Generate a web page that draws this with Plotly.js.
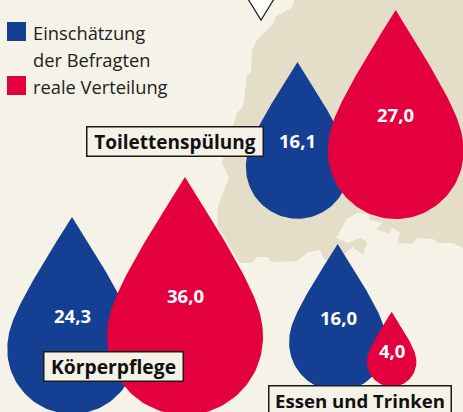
<!DOCTYPE html>
<html><head><meta charset="utf-8">
<script src="https://cdn.plot.ly/plotly-3.0.1.min.js"></script>
<style>html,body{margin:0;padding:0;background:#f5f2e7;overflow:hidden}</style></head>
<body><div id="chart" style="width:463px;height:412px"></div>
<script>
var categories = ["Toilettenspülung", "Körperpflege", "Essen und Trinken"];
var schaetzung = [16.1, 24.3, 16.0];
var real = [27.0, 36.0, 4.0];
var seriesNames = ["Einschätzung<br>der Befragten", "reale Verteilung"];

var blue = "#153f92", red = "#e4003f", bg = "#f5f2e7", land = "#e4ddc7";
var WIDTH_K = 26;
var blueScale = [0.99, 1.01, 0.935], redScale = [1.005, 1, 0.95];
// drop anchors: centre x, bottom y and tip y in canvas units
var blueAnchors = [[297.5, 218.7, 62], [72, 414, 217], [337.7, 391, 244]];
var redAnchors = [[395.7, 219, 10], [185, 415, 177], [391.7, 386.7, 311.7]];

var mapX = [294,293,275,274,257,252,251,247,243,237,233,222,229,220,217,218,240,251,257,268,271,297,308,320,325,340,347,353,363,367,360,348,336,347,357,368,370,383,376,390,392,400,398,412,417,433,438,453,463,463];
var mapY = [0,7,17,23,40,50,72,75,107,113,127,163,178,200,213,227,263,263,257,257,262,261,252,250,260,258,252,247,255,242,238,243,238,219,213,214,220,223,229,234,228,232,243,244,238,239,243,243,248,0];

function drop(value, a, scale) {
  var r = scale * WIDTH_K * Math.sqrt(value) / 2, h = a[1] - a[2], xs = [], ys = [], i, t;
  var cy = a[1] - r, top = a[2];
  for (i = 0; i <= 60; i++) { // right flank, tip to the circle
    t = i / 60;
    var mt = 1 - t;
    var py = top + 3*mt*mt*t*(0.44*h) + 3*mt*t*t*(0.55*h) + t*t*t*(cy - top);
    var px = 3*mt*mt*t*(0.85*r) + 3*mt*t*t*r + t*t*t*r;
    xs.push(a[0] + px); ys.push(py);
  }
  for (i = 1; i <= 60; i++) { // bottom half circle
    t = Math.PI * i / 60;
    xs.push(a[0] + r * Math.cos(t)); ys.push(cy + r * Math.sin(t));
  }
  for (i = 59; i >= 0; i--) { // left flank, mirror of the first 61 points
    xs.push(2 * a[0] - xs[i]); ys.push(ys[i]);
  }
  return {x: xs, y: ys};
}
function dropTrace(value, a, scale, color, name) {
  var d = drop(value, a, scale);
  return {type: "scatter", mode: "lines", x: d.x, y: d.y, fill: "toself", fillcolor: color,
          line: {width: 0, color: color}, name: name, showlegend: false, hoverinfo: "skip"};
}
var traces = [
  {type: "scatter", mode: "lines", x: mapX, y: mapY, fill: "toself", fillcolor: land,
   line: {width: 0, color: land}, showlegend: false, hoverinfo: "skip"},
  {type: "scatter", mode: "lines", x: [248, 261, 274], y: [-1, 20, -1],
   fill: "toself", fillcolor: "#ffffff", line: {width: 1.2, color: "#1a1a1a"}, showlegend: false, hoverinfo: "skip"}
];
for (var i = 0; i < categories.length; i++) {
  traces.push(dropTrace(schaetzung[i], blueAnchors[i], blueScale[i], blue, categories[i]));
  traces.push(dropTrace(real[i], redAnchors[i], redScale[i], red, categories[i]));
}
traces.push({type: "scatter", mode: "markers", x: [16.5, 16.5], y: [31.5, 85.5],
  marker: {symbol: "square", size: 19, color: [blue, red], line: {width: 0}}, showlegend: false, hoverinfo: "skip"});

var F = "'Open Sans', sans-serif";
function num(v) { return v.toFixed(1).replace(".", ","); }
function valueLabel(v, x, y) {
  return {x: x, y: y, xref: "x", yref: "y", text: "<b>" + num(v) + "</b>", showarrow: false,
          font: {family: F, size: 18.5, color: "#fff"}, xanchor: "center", yanchor: "middle"};
}
var blueLabelPos = [[297, 140], [72, 315], [338, 317]];
var redLabelPos = [[395, 114], [185, 295], [391.5, 350]];
var boxPos = [[175, 141.5], [113.2, 366.5], [360, 400]];
var boxW = [175, 138, 181], boxH = 28, boxFont = [19, 19.3, 18.6];
var annotations = [];
for (i = 0; i < categories.length; i++) {
  annotations.push(valueLabel(schaetzung[i], blueLabelPos[i][0], blueLabelPos[i][1]));
  annotations.push(valueLabel(real[i], redLabelPos[i][0], redLabelPos[i][1]));
  annotations.push({x: boxPos[i][0], y: boxPos[i][1], xref: "x", yref: "y", text: "<b>" + categories[i] + "</b>",
    showarrow: false, font: {family: F, size: boxFont[i], color: "#111"}, bgcolor: bg, bordercolor: "#1a1a1a",
    borderwidth: 1.5, borderpad: 0, width: boxW[i], height: boxH, align: "center", valign: "middle", xanchor: "center", yanchor: "middle"});
}
function legendText(t, y) {
  return {x: 31, y: y, xref: "x", yref: "y", xanchor: "left", yanchor: "middle", showarrow: false, align: "left",
    text: t, font: {family: F, size: 18.3, color: "#222"}};
}
annotations.push(legendText(seriesNames[0].split("<br>")[0], 32));
annotations.push(legendText(seriesNames[0].split("<br>")[1], 59));
annotations.push(legendText(seriesNames[1], 86));

Plotly.newPlot("chart", traces, {
  width: 463, height: 412, margin: {l: 0, r: 0, t: 0, b: 0},
  paper_bgcolor: bg, plot_bgcolor: bg, showlegend: false,
  xaxis: {range: [0, 463], visible: false, fixedrange: true},
  yaxis: {range: [412, 0], visible: false, fixedrange: true},
  annotations: annotations
}, {displayModeBar: false, staticPlot: true});
</script></body></html>
